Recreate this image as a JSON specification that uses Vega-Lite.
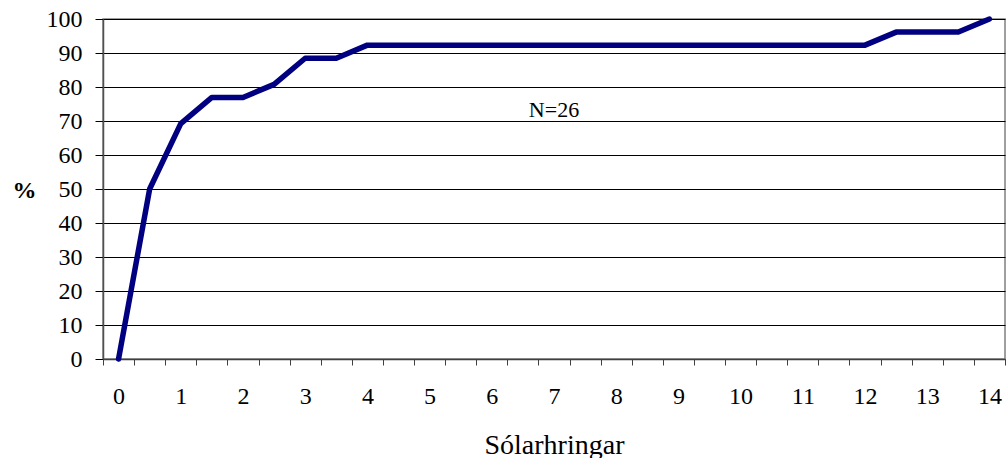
{
  "$schema": "https://vega.github.io/schema/vega-lite/v6.json",
  "width": 902,
  "height": 340,
  "autosize": "none",
  "padding": {"left": 103, "top": 19, "right": 2, "bottom": 99},
  "background": "white",
  "config": {
    "view": {"stroke": "#808080", "strokeWidth": 1.5}
  },
  "encoding": {
    "x": {
      "field": "dagar", "type": "quantitative",
      "scale": {"domain": [-0.25, 14.25], "nice": false, "zero": false},
      "axis": {
        "values": [-0.25, 0.25, 0.75, 1.25, 1.75, 2.25, 2.75, 3.25, 3.75, 4.25, 4.75, 5.25, 5.75, 6.25, 6.75, 7.25, 7.75, 8.25, 8.75, 9.25, 9.75, 10.25, 10.75, 11.25, 11.75, 12.25, 12.75, 13.25, 13.75, 14.25, 0, 1, 2, 3, 4, 5, 6, 7, 8, 9, 10, 11, 12, 13, 14],
        "labelExpr": "datum.value % 1 == 0 ? format(datum.value, 'd') : ''",
        "tickOpacity": {"condition": {"test": "datum.value % 1 == 0", "value": 0}, "value": 1},
        "grid": false,
        "domainColor": "#404040",
        "domainWidth": 1.5,
        "tickColor": "#404040",
        "tickSize": 6,
        "labelFont": "Liberation Serif, Times New Roman, serif",
        "labelFontSize": 24,
        "labelColor": "#000000",
        "labelPadding": 19,
        "labelOverlap": false,
        "title": "Sólarhringar",
        "titleFont": "Liberation Serif, Times New Roman, serif",
        "titleFontSize": 28,
        "titleFontWeight": "normal",
        "titleColor": "#000000",
        "titleBaseline": "alphabetic",
        "titleY": 94
      }
    },
    "y": {
      "field": "pct", "type": "quantitative",
      "scale": {"domain": [0, 100], "nice": false},
      "axis": {
        "values": [0, 10, 20, 30, 40, 50, 60, 70, 80, 90, 100],
        "gridColor": "#000000",
        "domainColor": "#505050",
        "domainWidth": 1.5,
        "tickColor": "#000000",
        "tickSize": 8,
        "labelFont": "Liberation Serif, Times New Roman, serif",
        "labelFontSize": 24,
        "labelColor": "#000000",
        "labelPadding": 13,
        "labelOverlap": false,
        "title": "%",
        "titleAngle": 0,
        "titleFont": "Liberation Serif, Times New Roman, serif",
        "titleFontSize": 24,
        "titleFontWeight": "bold",
        "titleColor": "#000000",
        "titleAlign": "center",
        "titleBaseline": "middle",
        "titleX": -79,
        "titleY": 171
      }
    }
  },
  "layer": [
    {
      "data": {"values": [
        {"dagar": 0, "pct": 0},
        {"dagar": 0.5, "pct": 50},
        {"dagar": 1, "pct": 69.23},
        {"dagar": 1.5, "pct": 76.92},
        {"dagar": 2, "pct": 76.92},
        {"dagar": 2.5, "pct": 80.77},
        {"dagar": 3, "pct": 88.46},
        {"dagar": 3.5, "pct": 88.46},
        {"dagar": 4, "pct": 92.31},
        {"dagar": 4.5, "pct": 92.31},
        {"dagar": 5, "pct": 92.31},
        {"dagar": 5.5, "pct": 92.31},
        {"dagar": 6, "pct": 92.31},
        {"dagar": 6.5, "pct": 92.31},
        {"dagar": 7, "pct": 92.31},
        {"dagar": 7.5, "pct": 92.31},
        {"dagar": 8, "pct": 92.31},
        {"dagar": 8.5, "pct": 92.31},
        {"dagar": 9, "pct": 92.31},
        {"dagar": 9.5, "pct": 92.31},
        {"dagar": 10, "pct": 92.31},
        {"dagar": 10.5, "pct": 92.31},
        {"dagar": 11, "pct": 92.31},
        {"dagar": 11.5, "pct": 92.31},
        {"dagar": 12, "pct": 92.31},
        {"dagar": 12.5, "pct": 96.15},
        {"dagar": 13, "pct": 96.15},
        {"dagar": 13.5, "pct": 96.15},
        {"dagar": 14, "pct": 100}
      ]},
      "mark": {"type": "line", "color": "#000080", "strokeWidth": 5.5, "strokeCap": "round", "strokeJoin": "round", "clip": false}
    },
    {
      "data": {"values": [{"dagar": 7, "pct": 71.3, "label": "N=26"}]},
      "mark": {"type": "text", "font": "Liberation Serif", "fontSize": 22, "baseline": "alphabetic", "align": "center", "color": "#000000"},
      "encoding": {
        "text": {"field": "label"}
      }
    }
  ]
}
